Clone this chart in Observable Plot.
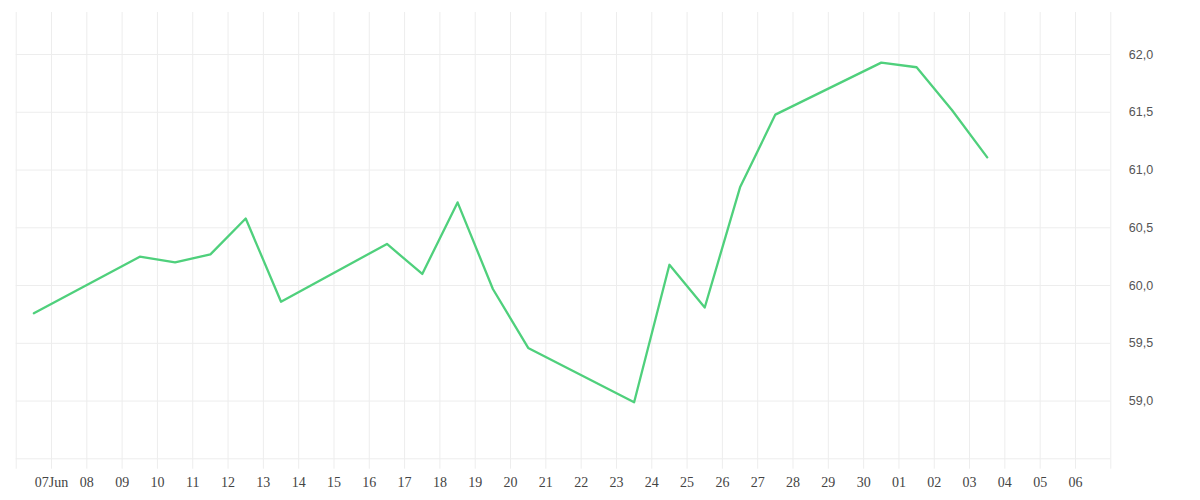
<!DOCTYPE html>
<html>
<head>
<meta charset="utf-8">
<script src="https://cdn.jsdelivr.net/npm/d3@7"></script>
<script src="https://cdn.jsdelivr.net/npm/@observablehq/plot@0.6"></script>
<style>
  html, body { margin: 0; padding: 0; background: #fff; }
  #chart svg { display: block; overflow: visible; }
</style>
</head>
<body>
<div id="chart"></div>
<script>
// Data
const dates = ["2024-06-06", "2024-06-09", "2024-06-10", "2024-06-11", "2024-06-12", "2024-06-13",
  "2024-06-16", "2024-06-17", "2024-06-18", "2024-06-19", "2024-06-20",
  "2024-06-23", "2024-06-24", "2024-06-25", "2024-06-26", "2024-06-27",
  "2024-06-30", "2024-07-01", "2024-07-02", "2024-07-03"];
const values = [59.76, 60.25, 60.20, 60.27, 60.58, 59.86,
  60.36, 60.10, 60.72, 59.97, 59.46,
  58.99, 60.18, 59.81, 60.85, 61.48,
  61.93, 61.89, 61.52, 61.11];
const yTickValues = [59.0, 59.5, 60.0, 60.5, 61.0, 61.5, 62.0];
const yGridValues = [58.5, 59.0, 59.5, 60.0, 60.5, 61.0, 61.5, 62.0];
const xStart = "2024-06-06";
const xEnd = "2024-07-07";

const parse = s => new Date(s + "T00:00:00Z");
const data = dates.map((d, i) => ({date: new Date(parse(d).getTime() + 12 * 3600e3), value: values[i]}));
const days = d3.utcDay.range(parse(xStart), d3.utcDay.offset(parse(xEnd), 1));
const labelDays = days.slice(1, -1);
const fmtFirst = d3.utcFormat("%d%b");
const fmtDay = d3.utcFormat("%d");

const yMin = 58.5, yMax = 62.364, yTickBottom = 58.41;
const grid = "#ededed";

const chart = Plot.plot({
  width: 1200,
  height: 500,
  marginLeft: 15.7,
  marginRight: 89.7,
  marginTop: 12,
  marginBottom: 41.7,
  style: {background: "#fff", color: "#444"},
  x: {type: "utc", domain: [parse(xStart), parse(xEnd)], label: null},
  y: {domain: [yMin, yMax], label: null},
  marks: [
    Plot.ruleY(yGridValues, {y: d => d, x1: parse(xStart), x2: parse(xEnd), stroke: grid, strokeWidth: 1}),
    Plot.ruleX(days, {x: d => d, y1: yTickBottom, y2: yMax, stroke: grid, strokeWidth: 1}),
    Plot.axisX(labelDays, {
      tickSize: 0, tickPadding: 18,
      tickFormat: (d, i) => i === 0 ? fmtFirst(d) : fmtDay(d),
      fontFamily: "Liberation Serif, serif", fontSize: 14, fill: "#444"
    }),
    Plot.axisY(yTickValues, {
      anchor: "right", tickSize: 0, tickPadding: 18,
      tickFormat: d => d.toFixed(1).replace(".", ","),
      fontFamily: "Liberation Sans, Arial, sans-serif", fontSize: 12.5, fill: "#555"
    }),
    Plot.line(data, {x: "date", y: "value", stroke: "#4fd07c", strokeWidth: 2.3, curve: "linear"})
  ]
});
document.getElementById("chart").appendChild(chart);
</script>
</body>
</html>
